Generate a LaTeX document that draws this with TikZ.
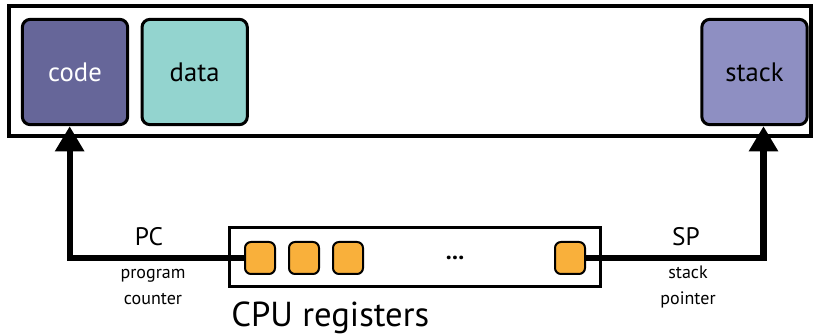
\documentclass[tikz,border=0pt]{standalone}
\usepackage{fontspec}
\setmainfont{PT Sans}
\usetikzlibrary{arrows.meta, positioning, calc}

\definecolor{codecol}{HTML}{666699}
\definecolor{datacol}{HTML}{93D4CF}
\definecolor{stackcol}{HTML}{8E8FC2}
\definecolor{regcol}{HTML}{F9B03B}

\tikzset{
  segment/.style={draw, line width=2.25pt, rounded corners=6pt, minimum width=79pt, minimum height=79pt, font=\fontsize{20}{22}\selectfont},
  reg/.style={draw, line width=1.5pt, fill=regcol, rounded corners=4.5pt, minimum width=22.5pt, minimum height=24pt},
  ptr/.style={line width=4.75pt, -{Triangle[width=21pt, length=19pt]}},
  regname/.style={font=\fontsize{19}{22}\selectfont},
  regdesc/.style={align=center, font=\fontsize{13.5}{19.5}\selectfont}
}

\begin{document}
\begin{tikzpicture}[x=0.75pt, y=-0.75pt]
  \useasboundingbox (0,0) rectangle (820,334);

  % address space
  \node [draw, line width=3pt, minimum width=601.5pt, minimum height=97.5pt] (space) at (410,71) {};
  \node [segment, fill=codecol, text=white] (code) at (75,72) {code};
  \node [segment, fill=datacol, right=8.5pt of code] (data) {data};
  \node [segment, fill=stackcol] (stack) at (754.5,72) {stack};

  % registers
  \node [draw, line width=2.25pt, minimum width=278pt, minimum height=44pt] (regs) at (415,257) {};
  \node [reg] (r1) at (260,258) {};
  \node [reg, right=9pt of r1] (r2) {};
  \node [reg, right=9pt of r2] (r3) {};
  \node [reg] (rn) at (570,258) {};
  \node [font=\fontsize{18}{20}\selectfont\bfseries] (dots) at (455,258) {...};
  \node [anchor=base west, inner sep=0pt, font=\fontsize{26}{28}\selectfont] (cpu) at (231,326) {CPU registers};

  % pointers
  \draw [ptr] (r1.west) -| ([xshift=-4pt]code.south);
  \draw [ptr] (rn.east) -| ([xshift=6.75pt]stack.south);

  \node [regname, anchor=base] (pc) at (149,246) {PC};
  \node [regdesc] (pcdesc) at (153,287) {program\\counter};
  \node [regname, anchor=base] (sp) at (686,246) {SP};
  \node [regdesc] (spdesc) at (688,287) {stack\\pointer};
\end{tikzpicture}
\end{document}
